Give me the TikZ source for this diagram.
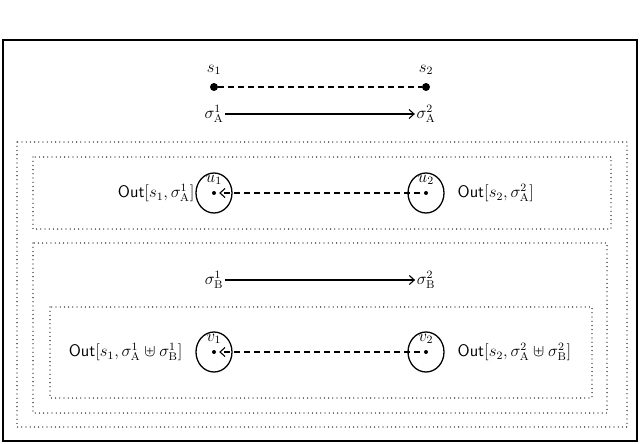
\documentclass[tikz,border=0pt]{standalone}
\usepackage{amssymb}
\usetikzlibrary{arrows.meta,shapes.geometric}
\begin{document}
\begin{tikzpicture}[x=1pt,y=-1pt,
  txt/.style={font=\large, inner sep=1pt, scale=1.4, transform shape},
  dotbox/.style={line width=1.3pt, dash pattern=on 0pt off 4.2pt, line cap=round},
  blob/.style={draw, line width=1.3pt, ellipse, minimum width=36pt, minimum height=40pt, inner sep=0pt},
  pt/.style={circle, fill, inner sep=0pt, minimum size=#1},
  dsh/.style={line width=1.2pt, dash pattern=on 6pt off 4pt},
  arr/.style={line width=1.1pt, -{Straight Barb[length=5pt,width=9pt]}}]
\useasboundingbox (0,0) rectangle (640,444);
\draw[line width=1.3pt] (3,40) rectangle (637,441);
\draw[dotbox] (17,142) rectangle (627,427);
\draw[dotbox] (33,157) rectangle (611,229);
\draw[dotbox] (33,243) rectangle (607,413);
\draw[dotbox] (50,307) rectangle (592,398);
% s row
\node[pt=8pt] (s1) at (214,87) {};
\node[pt=8pt] (s2) at (426,87) {};
\node[txt] at (214,70) {$s_1$};
\node[txt] at (426,70) {$s_2$};
\draw[dsh] (s1) -- (s2);
\node[txt] (a1) at (214,114) {$\sigma^1_{\mathrm{A}}$};
\node[txt] (a2) at (426,114) {$\sigma^2_{\mathrm{A}}$};
\draw[arr] (a1) -- (a2);
% u row
\node[blob] (u1) at (214,193) {};
\node[blob] (u2) at (426,193) {};
\node[pt=4pt] (u1c) at (214,193) {};
\node[pt=4pt] (u2c) at (426,193) {};
\node[txt] at (214,180) {$u_1$};
\node[txt] at (426,180) {$u_2$};
\draw[dsh, arr, shorten >=3pt, shorten <=4pt] (u2c) -- (u1c);
\node[txt, anchor=east] at (196,193) {$\mathsf{Out}[s_1,\sigma^1_{\mathrm{A}}]$};
\node[txt, anchor=west] at (456,193) {$\mathsf{Out}[s_2,\sigma^2_{\mathrm{A}}]$};
% sigma B
\node[txt] (b1) at (214,280) {$\sigma^1_{\mathrm{B}}$};
\node[txt] (b2) at (426,280) {$\sigma^2_{\mathrm{B}}$};
\draw[arr] (b1) -- (b2);
% v row
\node[blob] (v1) at (214,352) {};
\node[blob] (v2) at (426,352) {};
\node[pt=4pt] (v1c) at (214,352) {};
\node[pt=4pt] (v2c) at (426,352) {};
\node[txt] at (214,339) {$v_1$};
\node[txt] at (426,339) {$v_2$};
\draw[dsh, arr, shorten >=3pt, shorten <=4pt] (v2c) -- (v1c);
\node[txt, anchor=east] at (184,352) {$\mathsf{Out}[s_1,\sigma^1_{\mathrm{A}}\uplus\sigma^1_{\mathrm{B}}]$};
\node[txt, anchor=west] at (456,352) {$\mathsf{Out}[s_2,\sigma^2_{\mathrm{A}}\uplus\sigma^2_{\mathrm{B}}]$};
\end{tikzpicture}
\end{document}
